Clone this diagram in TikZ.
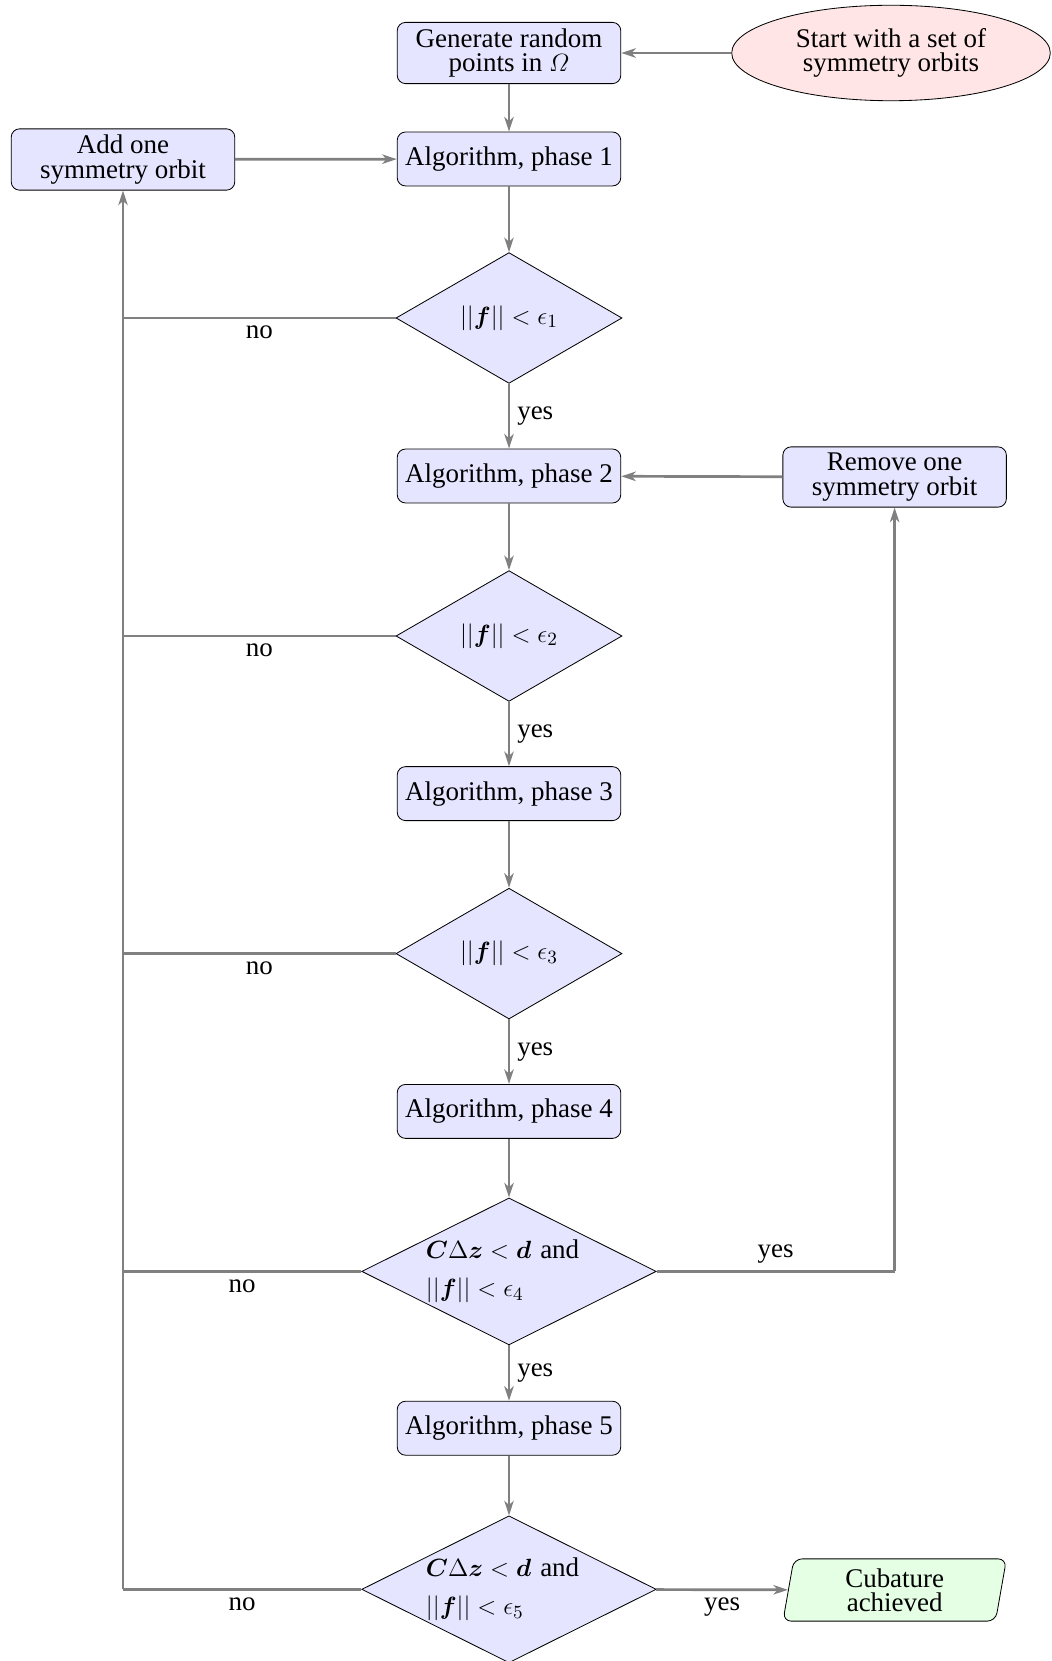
\documentclass[tikz,border=0pt]{standalone}
\usepackage{amsmath,bm}
\usepackage{fontspec}
\setmainfont{Liberation Serif}
\usetikzlibrary{shapes.geometric,arrows.meta}
\begin{document}
\begin{tikzpicture}[x=0.4818pt,y=-0.4818pt,
  every node/.style={font=\fontsize{13}{11.7}\selectfont},
  procbox/.style={draw, rounded corners=4pt, fill=blue!10, minimum width=107.7pt, minimum height=26pt, align=center, inner sep=3pt},
  decbox/.style={draw, diamond, fill=blue!10, minimum width=108.9pt, minimum height=63pt, inner sep=0pt, align=center, aspect=1.7},
  bigdec/.style={decbox, minimum width=141.9pt, minimum height=70.8pt, text width=80pt, align=left, aspect=2},
  startbox/.style={draw, ellipse, fill=red!10, minimum width=153.5pt, minimum height=46pt, inner sep=0pt, align=center},
  endbox/.style={draw, trapezium, trapezium left angle=77, trapezium right angle=103, trapezium stretches body, rounded corners=4pt, fill=green!10, minimum width=107.7pt, minimum height=30pt, align=center, inner sep=1pt},
  conn/.style={draw=gray, line width=1.3pt},
  arr/.style={conn, -{Stealth[length=7pt,width=4.5pt,inset=2pt]}}
]
\useasboundingbox (0,0) rectangle (1051,1661);
\node[procbox] (gen) at (509,53) {Generate random\\points in $\varOmega$};
\node[startbox] (start) at (891,53) {Start with a set of\\symmetry orbits};
\node[procbox] (add) at (123,159.5) {Add one\\symmetry orbit};
\node[procbox] (p1) at (509,159) {Algorithm, phase 1};
\node[decbox] (d1) at (509,318) {$||\bm{f}|| < \epsilon_1$};
\node[procbox] (p2) at (509,476) {Algorithm, phase 2};
\node[procbox] (rem) at (894.6,477) {Remove one\\symmetry orbit};
\node[decbox] (d2) at (509,636) {$||\bm{f}|| < \epsilon_2$};
\node[procbox] (p3) at (509,793.6) {Algorithm, phase 3};
\node[decbox] (d3) at (509,953.6) {$||\bm{f}|| < \epsilon_3$};
\node[procbox] (p4) at (509,1111.4) {Algorithm, phase 4};
\node[bigdec] (d4) at (509,1271.4) {$\bm{C}\Delta\bm{z} < \bm{d}$ and\\[6.5pt]$||\bm{f}|| < \epsilon_4$};
\node[procbox] (p5) at (509,1428.2) {Algorithm, phase 5};
\node[bigdec] (d5) at (509,1589.3) {$\bm{C}\Delta\bm{z} < \bm{d}$ and\\[6.5pt]$||\bm{f}|| < \epsilon_5$};
\node[endbox] (cub) at (894.7,1590) {Cubature\\achieved};

\coordinate (l1) at (123,318);
\coordinate (l2) at (123,636);
\coordinate (l3) at (123,953.6);
\coordinate (l4) at (123,1271.4);
\coordinate (l5) at (123,1589.3);
\coordinate (r4) at (894.6,1271.4);

\draw[arr] (start) -- (gen);
\draw[arr] (gen) -- (p1);
\draw[arr] (add) -- (p1);
\draw[arr] (p1) -- (d1);
\draw[arr] (d1) -- node[right] {yes} (p2);
\draw[arr] (rem) -- (p2);
\draw[arr] (p2) -- (d2);
\draw[arr] (d2) -- node[right] {yes} (p3);
\draw[arr] (p3) -- (d3);
\draw[arr] (d3) -- node[right] {yes} (p4);
\draw[arr] (p4) -- (d4);
\draw[arr] (d4) -- node[right] {yes} (p5);
\draw[arr] (p5) -- (d5);
\draw[arr] (d5) -- node[below] {yes} (cub);
\draw[conn] (d4.east) -- node[above] {yes} (r4);
\draw[arr] (r4) -- (rem);
\draw[conn] (d1.west) -- node[below] {no} (l1);
\draw[conn] (d2.west) -- node[below] {no} (l2);
\draw[conn] (d3.west) -- node[below] {no} (l3);
\draw[conn] (d4.west) -- node[below] {no} (l4);
\draw[conn] (d5.west) -- node[below] {no} (l5);
\draw[arr] (l5) -- (add);
\end{tikzpicture}
\end{document}
